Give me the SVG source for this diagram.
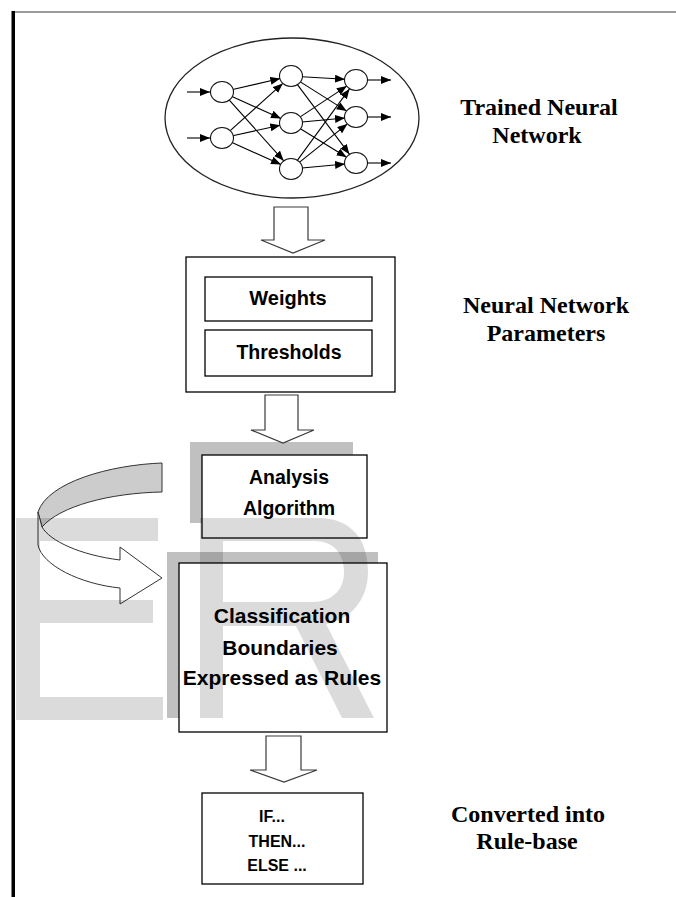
<svg xmlns="http://www.w3.org/2000/svg" width="676" height="897" viewBox="0 0 676 897">
<style>
.serif{font-family:"Liberation Serif","Times New Roman",serif;font-weight:bold;font-size:24px;text-anchor:middle;fill:#000}
.sans{font-family:"Liberation Sans",Arial,sans-serif;font-weight:bold;text-anchor:middle;fill:#000}
.box{fill:#fff;stroke:#000;stroke-width:1.3}
.node{fill:#fff;stroke:#111;stroke-width:1.1}
.edge{stroke:#000;stroke-width:1.1;fill:none;marker-end:url(#ah)}
.block{fill:#fff;stroke:#3a3a3a;stroke-width:1.2;stroke-linejoin:miter}
.shadow{fill:#c0c0c0}
.wm{fill:#000;fill-opacity:0.14;fill-rule:evenodd}
</style>
<defs>
<marker id="ah" markerUnits="userSpaceOnUse" markerWidth="11" markerHeight="9" refX="10" refY="4" orient="auto">
<path d="M0,0 L10,4 L0,8 Z" fill="#000"/>
</marker>
</defs>
<rect width="676" height="897" fill="#fff"/>
<g id="frame">
<line x1="12" y1="12" x2="676" y2="12" stroke="#7a7a7a" stroke-width="1.5"/>
<rect x="11.5" y="11" width="3.5" height="886" fill="#000"/>
</g>
<g id="watermark-shadow">
<rect class="shadow" x="190" y="442" width="163" height="81"/>
<rect class="shadow" x="167" y="552" width="211" height="166"/>
</g>
<g id="trained-network">
<ellipse cx="292" cy="118" rx="127" ry="80" fill="#fff" stroke="#222" stroke-width="1.3"/>
<g id="nn-edges">
<line class="edge" x1="187" y1="92" x2="210" y2="92"/>
<line class="edge" x1="187" y1="138" x2="210" y2="138"/>
<line class="edge" x1="232.7" y1="89.5" x2="280.3" y2="78.5"/>
<line class="edge" x1="232" y1="96.5" x2="281" y2="118.5"/>
<line class="edge" x1="229.3" y1="100.2" x2="283.7" y2="160.8"/>
<line class="edge" x1="230.2" y1="130.6" x2="282.8" y2="83.4"/>
<line class="edge" x1="232.7" y1="135.7" x2="280.3" y2="125.3"/>
<line class="edge" x1="232" y1="142.5" x2="281" y2="164.5"/>
<line class="edge" x1="302" y1="76.7" x2="345" y2="79.3"/>
<line class="edge" x1="300.3" y1="81.9" x2="346.7" y2="111.1"/>
<line class="edge" x1="297.6" y1="84.8" x2="349.4" y2="154.2"/>
<line class="edge" x1="300.2" y1="116.9" x2="346.8" y2="86.1"/>
<line class="edge" x1="302" y1="122" x2="345" y2="118"/>
<line class="edge" x1="300.4" y1="128.8" x2="346.6" y2="157.2"/>
<line class="edge" x1="297.5" y1="160.1" x2="349.5" y2="88.9"/>
<line class="edge" x1="299.6" y1="162.1" x2="347.4" y2="123.9"/>
<line class="edge" x1="302" y1="168" x2="345" y2="164"/>
<line class="edge" x1="367" y1="80" x2="391" y2="80"/>
<line class="edge" x1="367" y1="117" x2="391" y2="117"/>
<line class="edge" x1="367" y1="163" x2="391" y2="163"/>
</g>
<ellipse class="node" cx="222" cy="92" rx="11.5" ry="10.5"/>
<ellipse class="node" cx="222" cy="138" rx="11.5" ry="10.5"/>
<ellipse class="node" cx="291" cy="76" rx="11.5" ry="10.5"/>
<ellipse class="node" cx="291" cy="123" rx="11.5" ry="10.5"/>
<ellipse class="node" cx="291" cy="169" rx="11.5" ry="10.5"/>
<ellipse class="node" cx="356" cy="80" rx="11.5" ry="10.5"/>
<ellipse class="node" cx="356" cy="117" rx="11.5" ry="10.5"/>
<ellipse class="node" cx="356" cy="163" rx="11.5" ry="10.5"/>
</g>
<g id="connectors">
<path class="block" d="M274,207 H308 V240 H325 L293,253 L261,240 H274 Z"/>
<path class="block" d="M265,395 H298 V430 H314 L283,443 L251,430 H265 Z"/>
<path class="block" d="M266,736 H301 V770 H317 L284,782 L250,770 H266 Z"/>
<g id="curved-arrow" stroke="#333" stroke-width="1" stroke-linejoin="round">
<path d="M162,463 C110,465 48,482 38,512 L42,527 C60,506 110,493 162,492 Z" fill="#cccccc"/>
<path d="M38,512 L38,545 C42,565 80,584 120,588 L120,604 L162,578 L120,547 L120,560 C80,555 50,541 42,527 Z" fill="#fff"/>
</g>
</g>
<g id="parameters">
<rect class="box" x="186" y="257" width="209" height="135"/>
<rect class="box" x="205" y="277" width="167" height="44"/>
<text class="sans" x="288" y="305" font-size="20">Weights</text>
<rect class="box" x="205" y="330" width="167" height="46"/>
<text class="sans" x="289" y="359" font-size="19.5">Thresholds</text>
</g>
<g id="analysis">
<rect class="box" x="202" y="455" width="165" height="83"/>
<text class="sans" x="289" y="484" font-size="19.5">Analysis</text>
<text class="sans" x="289" y="515" font-size="19.5">Algorithm</text>
</g>
<g id="classification">
<rect class="box" x="179" y="563" width="208" height="169"/>
<text class="sans" x="282" y="623" font-size="21">Classification</text>
<text class="sans" x="280" y="655" font-size="21">Boundaries</text>
<text class="sans" x="282" y="685" font-size="21">Expressed as Rules</text>
</g>
<g id="rulebase">
<rect class="box" x="202" y="793" width="161" height="91"/>
<text class="sans" x="272" y="822" font-size="16">IF...</text>
<text class="sans" x="277" y="847" font-size="16">THEN...</text>
<text class="sans" x="277" y="871" font-size="16">ELSE ...</text>
</g>
<g id="labels">
<text class="serif" x="539" y="115">Trained Neural</text>
<text class="serif" x="537" y="143">Network</text>
<text class="serif" x="546" y="313">Neural Network</text>
<text class="serif" x="546" y="341">Parameters</text>
<text class="serif" x="528" y="822">Converted into</text>
<text class="serif" x="527" y="849">Rule-base</text>
</g>
<g id="watermark">
<path class="wm" d="M16,518 H158 V541 H40 V600 H153 V623 H40 V697 H163 V720 H16 Z"/>
<path class="wm" d="M200,518 H318 C352,518 368,540 368,572 C368,600 350,620 326,624 L374,718 H342 L296,626 H223 V718 H200 Z M223,541 H314 C334,541 344,554 344,572 C344,590 332,602 312,602 H223 Z"/>
</g>
</svg>
